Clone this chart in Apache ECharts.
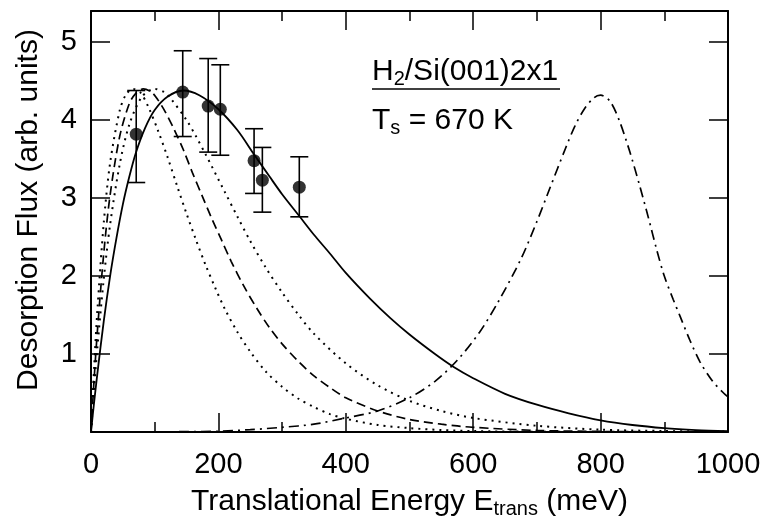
<!DOCTYPE html>
<html><head><meta charset="utf-8">
<script src="https://cdn.jsdelivr.net/npm/echarts@6/dist/echarts.min.js"></script>
<style>html,body{margin:0;padding:0;background:#fff}#c{width:762px;height:521px}</style>
</head><body><div id="c"></div>
<script>
const FONT = "'Liberation Sans', Arial, Helvetica, sans-serif";

// tick settings
const xMin = 0, xMax = 1000, xStep = 200;
const yMin = 0, yMax = 5.4, yStep = 1;
const yLabelsShown = [1, 2, 3, 4, 5];

// measured points with error bars
const dataEnergy = [71, 144, 184, 203, 256, 269, 327];
const dataFlux   = [3.82, 4.36, 4.18, 4.14, 3.48, 3.23, 3.14];
const errHigh    = [4.38, 4.89, 4.79, 4.71, 3.89, 3.65, 3.53];
const errLow     = [3.20, 3.79, 3.59, 3.55, 3.06, 2.82, 2.76];

// solid fit curve
const solidCurve = [[0,0],[5,0.39],[10,0.75],[20,1.42],[30,2.0],[40,2.49],[50,2.92],[60,3.27],[70,3.57],[85,3.9],[100,4.13],[120,4.3],[145,4.38],[170,4.32],[200,4.14],[230,3.87],[256,3.56],[280,3.28],[300,3.05],[327,2.77],[350,2.53],[375,2.29],[400,2.04],[438,1.71],[470,1.46],[500,1.25],[540,1.0],[570,0.83],[600,0.69],[650,0.49],[700,0.35],[750,0.24],[800,0.15],[850,0.09],[900,0.05],[950,0.025],[1000,0.01]];

// inner dotted curve
const dotCurveA = [[0,0],[5,0.84],[10,1.56],[20,2.68],[30,3.45],[45,4.12],[55,4.33],[66,4.4],[78,4.35],[90,4.17],[105,3.87],[120,3.53],[135,3.16],[150,2.8],[165,2.46],[180,2.14],[195,1.85],[210,1.58],[230,1.28],[250,1.03],[275,0.77],[300,0.58],[325,0.43],[350,0.32],[375,0.23],[400,0.17],[450,0.09],[500,0.05],[550,0.025],[600,0.012],[700,0.003],[800,0.001],[1000,0]];

// dashed curve
const dashCurve = [[0,0],[5,0.69],[10,1.29],[20,2.29],[30,3.04],[45,3.79],[60,4.21],[70,4.34],[82,4.4],[95,4.36],[105,4.26],[117,4.1],[130,3.89],[145,3.62],[160,3.31],[175,3.02],[190,2.73],[205,2.46],[220,2.19],[240,1.87],[260,1.59],[280,1.34],[300,1.13],[325,0.91],[350,0.72],[375,0.57],[400,0.44],[450,0.27],[500,0.16],[550,0.1],[600,0.06],[700,0.02],[800,0.007],[900,0.002],[1000,0]];

// outer dotted curve
const dotCurveB = [[0,0],[5,0.57],[10,1.08],[20,1.96],[30,2.66],[45,3.43],[60,3.94],[80,4.3],[100,4.4],[115,4.36],[125,4.28],[150,4.0],[165,3.79],[180,3.56],[210,3.08],[230,2.76],[250,2.45],[275,2.1],[300,1.79],[325,1.51],[350,1.26],[400,0.88],[450,0.6],[500,0.4],[550,0.27],[600,0.18],[700,0.08],[800,0.03],[900,0.013],[1000,0.005]];

// dash-dot curve
const dashDotCurve = [[0,0],[100,0],[150,0.005],[200,0.01],[250,0.03],[300,0.06],[350,0.1],[400,0.18],[450,0.27],[500,0.44],[540,0.65],[575,0.92],[610,1.28],[640,1.68],[675,2.22],[700,2.7],[720,3.12],[745,3.64],[760,3.93],[775,4.15],[790,4.29],[800,4.32],[815,4.24],[830,3.98],[846,3.59],[862,3.14],[875,2.75],[888,2.34],[900,2.0],[914,1.7],[925,1.48],[940,1.18],[956,0.9],[975,0.66],[993,0.5],[1000,0.45]];

const chart = echarts.init(document.getElementById('c'), null, {renderer: 'canvas'});

const axisCommonX = {
  type: 'value', min: xMin, max: xMax, interval: xStep,
  axisLine: {show: true, onZero: false, lineStyle: {color: '#000', width: 2}},
  axisTick: {show: true, inside: true, length: 19, lineStyle: {color: '#000', width: 1.5}},
  minorTick: {show: true, splitNumber: 2, length: 10, lineStyle: {color: '#000', width: 1.5}},
  splitLine: {show: false}, minorSplitLine: {show: false}
};
const axisCommonY = {
  type: 'value', min: yMin, max: yMax, interval: yStep,
  axisLine: {show: true, onZero: false, lineStyle: {color: '#000', width: 2}},
  axisTick: {show: true, inside: true, length: 19, lineStyle: {color: '#000', width: 1.5}},
  splitLine: {show: false}
};

const richM = {fontSize: 30, fontFamily: FONT, color: '#000', lineHeight: 34, verticalAlign: 'middle'};
const richS = {fontSize: 20, fontFamily: FONT, color: '#000', lineHeight: 8, verticalAlign: 'bottom'};

const lineBase = {type: 'line', showSymbol: false, smooth: 0.3, animation: false, silent: true, z: 3};

chart.setOption({
  animation: false,
  backgroundColor: '#fff',
  grid: {left: 91, right: 34, top: 11, bottom: 89, containLabel: false, outerBoundsMode: 'none'},
  xAxis: [
    Object.assign({}, axisCommonX, {
      position: 'bottom',
      axisLabel: {show: true, color: '#000', fontSize: 29, fontFamily: FONT, margin: 18,
        formatter: v => String(v)},
      name: '{m|Translational Energy E}{s|trans}{m| (meV)}',
      nameLocation: 'middle', nameGap: 53,
      nameTextStyle: {color: '#000', fontFamily: FONT, fontSize: 30, rich: {m: richM, s: richS}}
    }),
    Object.assign({}, axisCommonX, {position: 'top', axisLabel: {show: false}})
  ],
  yAxis: [
    Object.assign({}, axisCommonY, {
      position: 'left',
      axisLabel: {show: true, color: '#000', fontSize: 29, fontFamily: FONT, margin: 14,
        formatter: v => (yLabelsShown.indexOf(v) >= 0 ? String(v) : '')}
    }),
    Object.assign({}, axisCommonY, {position: 'right', axisLabel: {show: false}})
  ],
  graphic: [
    {type: 'text', x: 29, y: 210, rotation: Math.PI / 2, silent: true,
     style: {text: 'Desorption Flux (arb. units)', font: '30px ' + FONT, fill: '#000', align: 'center', verticalAlign: 'middle'}},
    {type: 'text', x: 372, y: 55, silent: true,
     style: {text: '{m|H}{s|2}{m|/Si(001)2x1}', fill: '#000', align: 'left', verticalAlign: 'top', rich: {m: richM, s: richS}}},
    {type: 'line', silent: true, shape: {x1: 372, y1: 89, x2: 560, y2: 89}, style: {stroke: '#000', lineWidth: 1.5}},
    {type: 'text', x: 372, y: 104, silent: true,
     style: {text: '{m|T}{s|s}{m| = 670 K}', fill: '#000', align: 'left', verticalAlign: 'top', rich: {m: richM, s: richS}}}
  ],
  series: [
    Object.assign({}, lineBase, {name: 'fit', data: solidCurve, lineStyle: {color: '#000', width: 1.8, type: 'solid'}}),
    Object.assign({}, lineBase, {name: 'dotA', data: dotCurveA, lineStyle: {color: '#000', width: 2, type: [2, 5]}}),
    Object.assign({}, lineBase, {name: 'dash', data: dashCurve, lineStyle: {color: '#000', width: 1.7, type: [9, 5]}}),
    Object.assign({}, lineBase, {name: 'dotB', data: dotCurveB, lineStyle: {color: '#000', width: 2, type: [2, 5]}}),
    Object.assign({}, lineBase, {name: 'dashdot', data: dashDotCurve, lineStyle: {color: '#000', width: 1.7, type: [10, 5, 2, 5]}}),
    {
      type: 'custom', name: 'err', silent: true, z: 4,
      data: dataEnergy.map((e, i) => [e, errLow[i], errHigh[i]]),
      encode: {x: 0, y: [1, 2]},
      renderItem: function (params, api) {
        const x = api.value(0), lo = api.value(1), hi = api.value(2);
        const pLo = api.coord([x, lo]), pHi = api.coord([x, hi]);
        const w = 9;
        const st = {stroke: '#000', lineWidth: 1.6, fill: null};
        return {type: 'group', children: [
          {type: 'line', shape: {x1: pLo[0], y1: pLo[1], x2: pHi[0], y2: pHi[1]}, style: st},
          {type: 'line', shape: {x1: pLo[0] - w, y1: pLo[1], x2: pLo[0] + w, y2: pLo[1]}, style: st},
          {type: 'line', shape: {x1: pHi[0] - w, y1: pHi[1], x2: pHi[0] + w, y2: pHi[1]}, style: st}
        ]};
      }
    },
    {
      type: 'scatter', name: 'data', silent: true, z: 5,
      data: dataEnergy.map((e, i) => [e, dataFlux[i]]),
      symbol: 'circle', symbolSize: 13,
      itemStyle: {color: '#000', borderWidth: 0}
    }
  ]
});
</script>
</body></html>
